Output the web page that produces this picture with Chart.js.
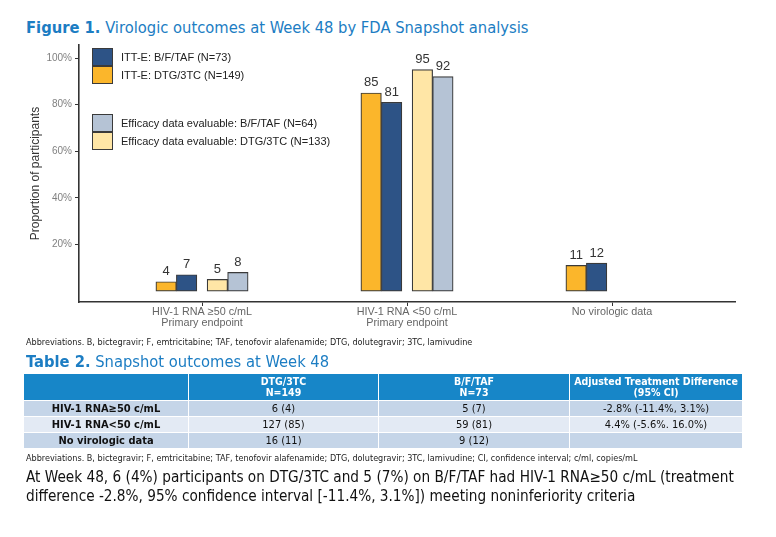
<!DOCTYPE html>
<html>
<head>
<meta charset="utf-8">
<title>Virologic outcomes at Week 48</title>
<script src="https://cdn.jsdelivr.net/npm/chart.js"></script>
<style>
  body { margin: 0; width: 776px; height: 537px; background: #fff; position: relative; overflow: hidden;
         font-family: "DejaVu Sans Condensed", "DejaVu Sans", sans-serif; }
  .heading { position: absolute; left: 26px; font-size: 16.4px; line-height: 20px; color: #1c7dc3; white-space: nowrap; }
  .abbrev { position: absolute; left: 26px; font-size: 9px; line-height: 10px; color: #222; white-space: nowrap; }
  #chartBox { position: absolute; left: 0; top: 40px; width: 776px; height: 300px; }
  #legend { position: absolute; left: 92px; top: 48px; font-family: "Liberation Sans", Arial, sans-serif; font-size: 11px; color: #222; }
  .item { display: flex; align-items: center; height: 18px; }
  .item .box { width: 19px; height: 16px; border: 1.2px solid #3a3a3a; margin-right: 8px; }
  .gap { height: 30px; }
  table { position: absolute; left: 23px; top: 373px; width: 719px; border-collapse: collapse; table-layout: fixed;
          font-size: 11px; color: #111; }
  td, th { border: 1.5px solid #fff; text-align: center; padding: 0; }
  th { background: #1786c8; color: #fff; font-weight: bold; height: 26px; line-height: 11.5px; font-size: 10.5px; }
  td { height: 15px; line-height: 15px; }
  tr.a td { background: #c5d5e8; }
  tr.b td { background: #e3eaf4; }
  td.lab { font-weight: bold; }
  #note { position: absolute; left: 26px; top: 468px; width: 745px; font-size: 15.2px; line-height: 19px; color: #111; }
</style>
</head>
<body>
<div class="heading" style="top:18px"><b>Figure 1.</b> Virologic outcomes at Week 48 by FDA Snapshot analysis</div>

<div id="chartBox"><canvas id="outcomeChart"></canvas></div>
<div id="legend"></div>

<div class="abbrev" style="top:337px">Abbreviations. B, bictegravir; F, emtricitabine; TAF, tenofovir alafenamide; DTG, dolutegravir; 3TC, lamivudine</div>

<div class="heading" style="top:352px"><b>Table 2.</b> Snapshot outcomes at Week 48</div>
<table>
  <colgroup><col style="width:165px"><col style="width:190px"><col style="width:191px"><col style="width:173px"></colgroup>
  <tr><th></th><th>DTG/3TC<br>N=149</th><th>B/F/TAF<br>N=73</th><th>Adjusted Treatment Difference<br>(95% CI)</th></tr>
  <tr class="a"><td class="lab">HIV-1 RNA≥50 c/mL</td><td>6 (4)</td><td>5 (7)</td><td>-2.8% (-11.4%, 3.1%)</td></tr>
  <tr class="b"><td class="lab">HIV-1 RNA&lt;50 c/mL</td><td>127 (85)</td><td>59 (81)</td><td>4.4% (-5.6%. 16.0%)</td></tr>
  <tr class="a"><td class="lab">No virologic data</td><td>16 (11)</td><td>9 (12)</td><td></td></tr>
</table>

<div class="abbrev" style="top:453px">Abbreviations. B, bictegravir; F, emtricitabine; TAF, tenofovir alafenamide; DTG, dolutegravir; 3TC, lamivudine; CI, confidence interval; c/ml, copies/mL</div>

<div id="note">At Week 48, 6 (4%) participants on DTG/3TC and 5 (7%) on B/F/TAF had HIV-1 RNA≥50 c/mL (treatment difference -2.8%, 95% confidence interval [-11.4%, 3.1%]) meeting noninferiority criteria</div>

<script>
const categories = [
  ["HIV-1 RNA ≥50 c/mL", "Primary endpoint"],
  ["HIV-1 RNA <50 c/mL", "Primary endpoint"],
  ["No virologic data"]
];
const ittDtg = [4, 85, 11];      // ITT-E: DTG/3TC (N=149)
const ittBftaf = [7, 81, 12];    // ITT-E: B/F/TAF (N=73)
const effDtg = [5, 95, null];    // Efficacy data evaluable: DTG/3TC (N=133)
const effBftaf = [8, 92, null];  // Efficacy data evaluable: B/F/TAF (N=64)
const yTicks = [20, 40, 60, 80, 100];

const ORANGE = '#fbb62b', NAVY = '#2d5386', PALE_YELLOW = '#ffe6a6', PALE_BLUE = '#b5c3d5';

// ITT bars sit left of each category tick, efficacy bars right of it
const shift = 0.125;
function points(values, side) {
  const out = [];
  values.forEach((v, i) => {
    out.push({ x: i - shift, y: side < 0 ? v : null });
    out.push({ x: i + shift, y: side > 0 ? v : null });
  });
  return out;
}

const series = [
  { label: 'ITT-E: DTG/3TC (N=149)', data: points(ittDtg, -1), color: ORANGE },
  { label: 'ITT-E: B/F/TAF (N=73)', data: points(ittBftaf, -1), color: NAVY },
  { label: 'Efficacy data evaluable: DTG/3TC (N=133)', data: points(effDtg, 1), color: PALE_YELLOW },
  { label: 'Efficacy data evaluable: B/F/TAF (N=64)', data: points(effBftaf, 1), color: PALE_BLUE }
];

// legend order as in the figure
const legendOrder = [[1, 0], [3, 2]];
const legend = document.getElementById('legend');
legendOrder.forEach((block, b) => {
  if (b > 0) { const g = document.createElement('div'); g.className = 'gap'; legend.appendChild(g); }
  block.forEach(idx => {
    const row = document.createElement('div');
    row.className = 'item';
    row.innerHTML = `<span class="box" style="background:${series[idx].color}"></span><span>${series[idx].label}</span>`;
    legend.appendChild(row);
  });
});

const barLabels = {
  id: 'barLabels',
  afterDatasetsDraw(chart) {
    const ctx = chart.ctx;
    ctx.save();
    ctx.font = '13px "Liberation Sans", Arial, sans-serif';
    ctx.fillStyle = '#333';
    ctx.textAlign = 'center';
    ctx.textBaseline = 'alphabetic';
    chart.data.datasets.forEach((ds, di) => {
      chart.getDatasetMeta(di).data.forEach((bar, i) => {
        const v = ds.data[i].y;
        if (v == null) return;
        ctx.fillText(v, bar.x, bar.y - 6.5);
      });
    });
    ctx.restore();
  }
};

new Chart(document.getElementById('outcomeChart'), {
  type: 'bar',
  data: {
    datasets: series.map(s => ({
      label: s.label,
      data: s.data,
      backgroundColor: s.color,
      borderColor: '#3a3a3a',
      borderWidth: 1.2,
      borderSkipped: false,
      barThickness: 20.5,
      skipNull: true
    }))
  },
  options: {
    responsive: true,
    maintainAspectRatio: false,
    animation: false,
    layout: { padding: { top: 5, right: 41, left: 0, bottom: 0 } },
    plugins: { legend: { display: false }, tooltip: { enabled: false } },
    scales: {
      x: {
        type: 'linear',
        min: -0.6,
        max: 2.6,
        offset: false,
        afterBuildTicks: s => { s.ticks = categories.map((c, i) => ({ value: i })); },
        afterFit: s => { s.height = 38; s.paddingLeft = 0; s.paddingRight = 0; },
        grid: { drawOnChartArea: false, drawTicks: true, tickLength: 4, color: '#333', offset: false },
        border: { display: true, color: '#333', width: 1.6 },
        ticks: {
          color: '#666',
          padding: 1,
          maxRotation: 0,
          autoSkip: false,
          font: { family: '"Liberation Sans", Arial, sans-serif', size: 10.8, lineHeight: 1.0 },
          callback: v => categories[v]
        }
      },
      y: {
        min: -4.7,
        max: 105.6,
        afterBuildTicks: s => { s.ticks = yTicks.map(v => ({ value: v })); },
        afterFit: s => { s.width = 79; s.paddingTop = 0; s.paddingBottom = 0; },
        grid: { drawOnChartArea: false, drawTicks: true, tickLength: 4, color: '#333' },
        border: { display: true, color: '#333', width: 1.6 },
        ticks: {
          color: '#808080',
          padding: 3,
          font: { family: '"Liberation Sans", Arial, sans-serif', size: 10 },
          callback: v => v + '%'
        },
        title: {
          display: true,
          text: 'Proportion of participants',
          color: '#333',
          padding: { top: 28, bottom: 0 },
          font: { family: '"Liberation Sans", Arial, sans-serif', size: 12 }
        }
      }
    }
  },
  plugins: [barLabels]
});
</script>
</body>
</html>
